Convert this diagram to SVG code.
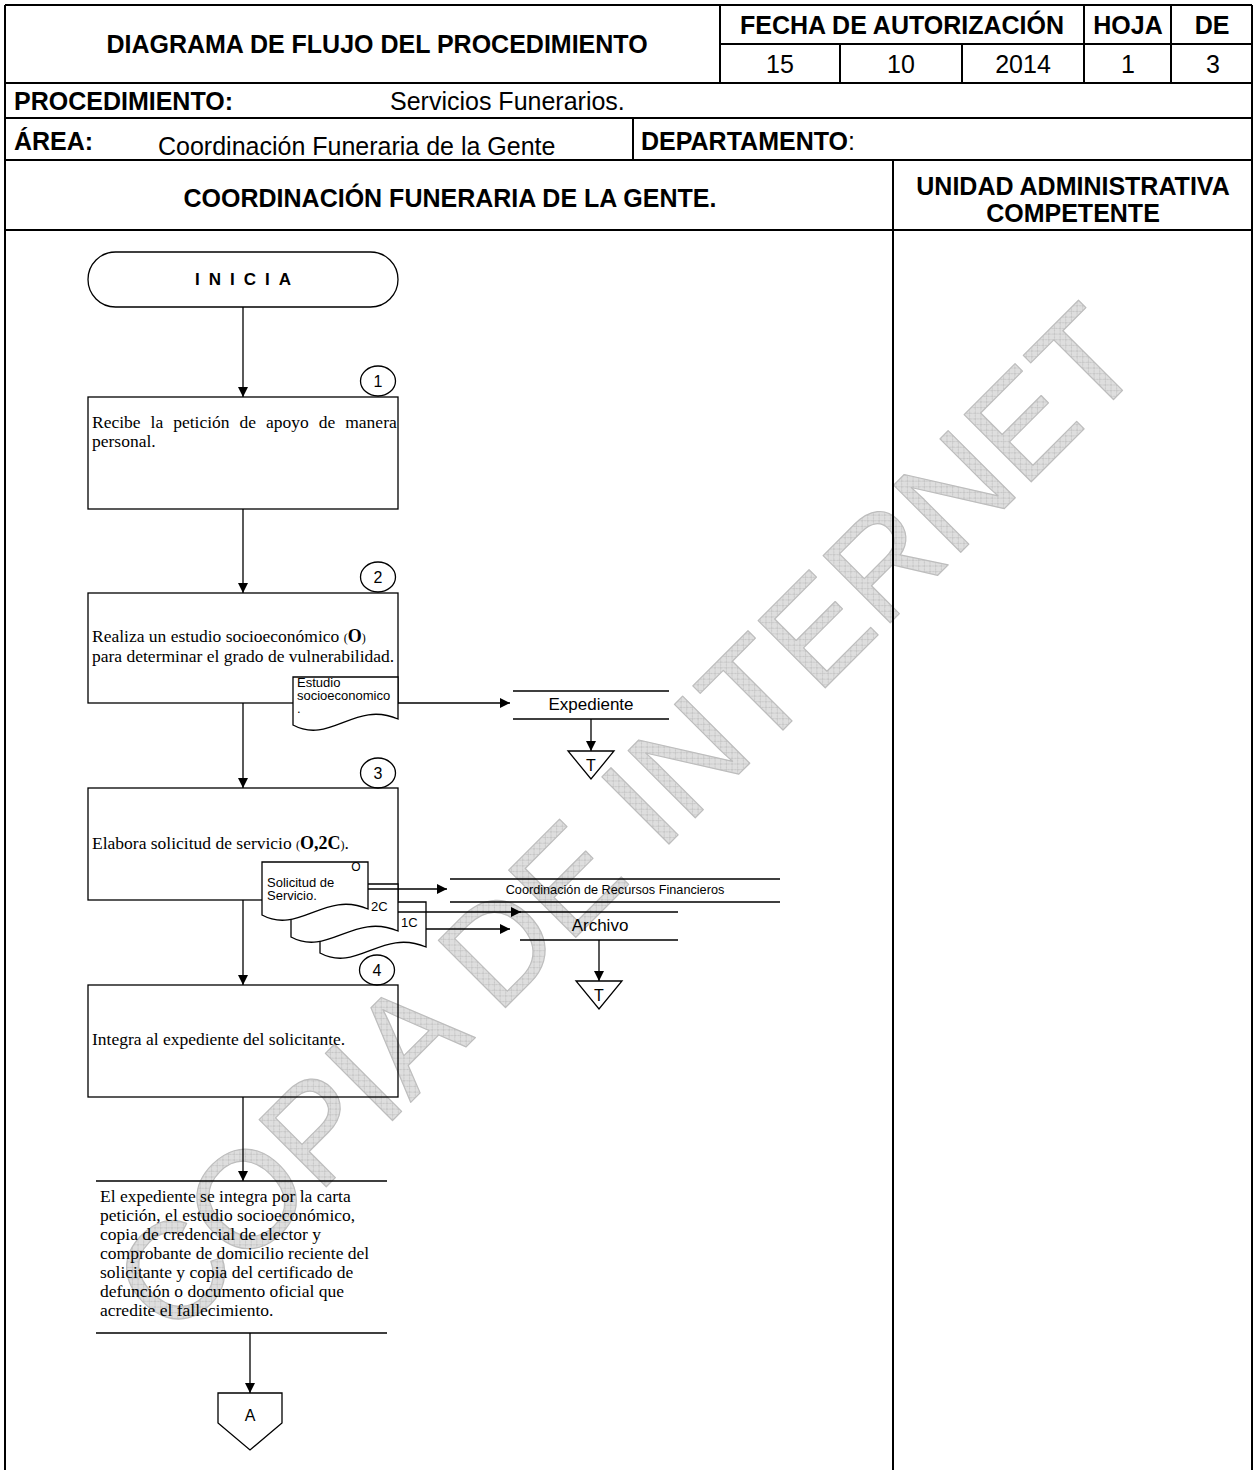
<svg xmlns="http://www.w3.org/2000/svg" width="1254" height="1470" viewBox="0 0 1254 1470">
<style>
.grid{stroke:#000;stroke-width:2;fill:none}
.hb{font-family:"Liberation Sans",Arial,sans-serif;font-weight:bold;font-size:25px;fill:#000}
.hr{font-family:"Liberation Sans",Arial,sans-serif;font-size:25px;fill:#000}
.box{fill:none;stroke:#000;stroke-width:1.3}
.doc{fill:#fff;stroke:#000;stroke-width:1.3}
.ln{stroke:#000;stroke-width:1.3;fill:none}
.ser{font-family:"Liberation Serif","Times New Roman",serif;font-size:17.5px;fill:#000}
.sans{font-family:"Liberation Sans",Arial,sans-serif;fill:#000}
.num{font-family:"Liberation Sans",Arial,sans-serif;font-size:16px;fill:#000;text-anchor:middle}
.wm{font-family:"Liberation Sans",Arial,sans-serif;font-size:138px;fill:url(#hatch);stroke:#bdbdbd;stroke-width:1.2;stroke-linejoin:round}
</style>
<defs>
<marker id="ah" viewBox="0 0 10 10" refX="10" refY="5" markerWidth="10.5" markerHeight="10.5" markerUnits="userSpaceOnUse" orient="auto"><path d="M0,0 L10,5 L0,10 z" fill="#000"/></marker>
<pattern id="hatch" patternUnits="userSpaceOnUse" width="8" height="8"><rect width="8" height="8" fill="#dedede"/><path d="M0,0 L8,8 M8,0 L0,8" stroke="#c4c4c4" stroke-width="0.9"/></pattern>
</defs>
<rect width="1254" height="1470" fill="#fff"/>

<!-- watermark -->
<text class="wm" transform="translate(172,1341) rotate(-45)">COPIA DE INTERNET</text>

<!-- header grid -->
<g id="header">
<path class="grid" d="M5,5 H1252 M5,5 V1470 M1252,5 V1470 M5,83 H1252 M5,118 H1252 M5,160 H1252 M5,230 H1252 M720,5 V83 M720,44 H1252 M840,44 V83 M962,44 V83 M1084,5 V83 M1171,5 V83 M633,118 V160 M893,160 V1470"/>
<text class="hb" x="377" y="53" text-anchor="middle">DIAGRAMA DE FLUJO DEL PROCEDIMIENTO</text>
<text class="hb" x="902" y="34" text-anchor="middle" font-size="25.7">FECHA DE AUTORIZACIÓN</text>
<text class="hb" x="1128" y="34" text-anchor="middle">HOJA</text>
<text class="hb" x="1212" y="34" text-anchor="middle">DE</text>
<text class="hr" x="780" y="73" text-anchor="middle">15</text>
<text class="hr" x="901" y="73" text-anchor="middle">10</text>
<text class="hr" x="1023" y="73" text-anchor="middle">2014</text>
<text class="hr" x="1128" y="73" text-anchor="middle">1</text>
<text class="hr" x="1213" y="73" text-anchor="middle">3</text>
<text class="hb" x="14" y="110" font-size="26">PROCEDIMIENTO:</text>
<text class="hr" x="390" y="110" font-size="26.3">Servicios Funerarios.</text>
<text class="hb" x="14" y="150">ÁREA:</text>
<text class="hr" x="158" y="155" font-size="26.3">Coordinación Funeraria de la Gente</text>
<text class="hb" x="641" y="150" font-size="26.5">DEPARTAMENTO<tspan font-weight="normal">:</tspan></text>
<text class="hb" x="450" y="207" text-anchor="middle" font-size="26.3">COORDINACIÓN FUNERARIA DE LA GENTE.</text>
<text class="hb" x="1073" y="195" text-anchor="middle" font-size="26.3">UNIDAD ADMINISTRATIVA</text>
<text class="hb" x="1073" y="222" text-anchor="middle" font-size="26.3">COMPETENTE</text>
</g>

<!-- nodes -->
<g id="inicia">
<rect class="box" x="88" y="252" width="310" height="55" rx="27.5"/>
<text class="sans" x="247.5" y="285" font-size="17" font-weight="bold" letter-spacing="9" text-anchor="middle">INICIA</text>
</g>

<g id="step1">
<ellipse class="box" cx="378" cy="381" rx="17.5" ry="15"/>
<text class="num" x="378" y="387">1</text>
<rect class="box" x="88" y="397" width="310" height="112"/>
<text class="ser" x="92" y="428" word-spacing="5.6">Recibe la petición de apoyo de manera</text>
<text class="ser" x="92" y="447">personal.</text>
</g>

<g id="step2">
<ellipse class="box" cx="378" cy="577" rx="17.5" ry="15"/>
<text class="num" x="378" y="583">2</text>
<rect class="box" x="88" y="593" width="310" height="110"/>
<text class="ser" x="92" y="642">Realiza un estudio socioeconómico <tspan font-size="12">(</tspan><tspan font-weight="bold" font-size="18">O</tspan><tspan font-size="12">)</tspan></text>
<text class="ser" x="92" y="662">para determinar el grado de vulnerabilidad.</text>
</g>

<g id="doc-estudio">
<path class="doc" d="M293,677 H398 V719 C355,700 330,745 293,725 Z"/>
<text class="sans" font-size="13" x="297" y="687">Estudio</text>
<text class="sans" font-size="13" x="297" y="700">socioeconomico</text>
<text class="sans" font-size="13" x="297" y="713">.</text>
</g>

<g id="expediente">
<path class="ln" d="M513,691 H669 M513,719 H669"/>
<text class="sans" font-size="17" x="591" y="710" text-anchor="middle">Expediente</text>
</g>

<g id="term-t1">
<path class="box" d="M568,751 H614 L591,779 Z"/>
<text class="sans" font-size="16" x="591" y="771" text-anchor="middle">T</text>
</g>

<g id="step3">
<ellipse class="box" cx="378" cy="773" rx="17.5" ry="15"/>
<text class="num" x="378" y="779">3</text>
<rect class="box" x="88" y="788" width="310" height="112"/>
<text class="ser" x="92" y="849">Elabora solicitud de servicio <tspan font-size="12">(</tspan><tspan font-weight="bold" font-size="18">O,2C</tspan><tspan font-size="12">)</tspan>.</text>
</g>

<g id="doc-solicitud">
<path class="doc" d="M320,902 H426 V947 C382,928 357,973 320,953 Z"/>
<path class="doc" d="M291,884 H398 V931 C354,912 328,957 291,937 Z"/>
<path class="doc" d="M262,862 H368 V909 C325,890 299,935 262,915 Z"/>
<text class="sans" font-size="13" x="267" y="887">Solicitud de</text>
<text class="sans" font-size="13" x="267" y="900">Servicio.</text>
<text class="sans" font-size="12" x="356" y="871" text-anchor="middle">O</text>
<text class="sans" font-size="13" x="371" y="911">2C</text>
<text class="sans" font-size="13" x="401" y="927">1C</text>
</g>

<g id="coord-rf">
<path class="ln" d="M450,879 H780 M450,902 H780"/>
<text class="sans" font-size="12.7" x="615" y="894" text-anchor="middle">Coordinación de Recursos Financieros</text>
</g>

<g id="archivo">
<path class="ln" d="M515,912 H678 M520,940 H678"/>
<text class="sans" font-size="17" x="600" y="931" text-anchor="middle">Archivo</text>
</g>

<g id="term-t2">
<path class="box" d="M576,981 H622 L599,1009 Z"/>
<text class="sans" font-size="16" x="599" y="1001" text-anchor="middle">T</text>
</g>

<g id="step4">
<ellipse class="box" cx="377" cy="970" rx="17.5" ry="15"/>
<text class="num" x="377" y="976">4</text>
<rect class="box" x="88" y="985" width="310" height="112"/>
<text class="ser" x="92" y="1045">Integra al expediente del solicitante.</text>
</g>

<g id="nota">
<path class="ln" d="M96,1181 H387 M96,1333 H387"/>
<text class="ser" x="100" y="1202">El expediente se integra por la carta</text>
<text class="ser" x="100" y="1221">petición, el estudio socioeconómico,</text>
<text class="ser" x="100" y="1240">copia de credencial de elector y</text>
<text class="ser" x="100" y="1259">comprobante de domicilio reciente del</text>
<text class="ser" x="100" y="1278">solicitante y copia del certificado de</text>
<text class="ser" x="100" y="1297">defunción o documento oficial que</text>
<text class="ser" x="100" y="1316">acredite el fallecimiento.</text>
</g>

<g id="conector-a">
<path class="box" d="M218,1393 H282 V1423 L250,1450 L218,1423 Z"/>
<text class="sans" font-size="16" x="250" y="1421" text-anchor="middle">A</text>
</g>

<!-- connectors -->
<g id="connectors" class="ln" marker-end="url(#ah)">
<path d="M243,307 V397"/>
<path d="M243,509 V593"/>
<path d="M243,703 V788"/>
<path d="M398,703 H510"/>
<path d="M591,719 V751"/>
<path d="M243,900 V985"/>
<path d="M368,889 H447"/>
<path d="M398,912 H521"/>
<path d="M426,929 H510"/>
<path d="M599,940 V981"/>
<path d="M243,1097 V1181"/>
<path d="M250,1333 V1393"/>
</g>
</svg>
